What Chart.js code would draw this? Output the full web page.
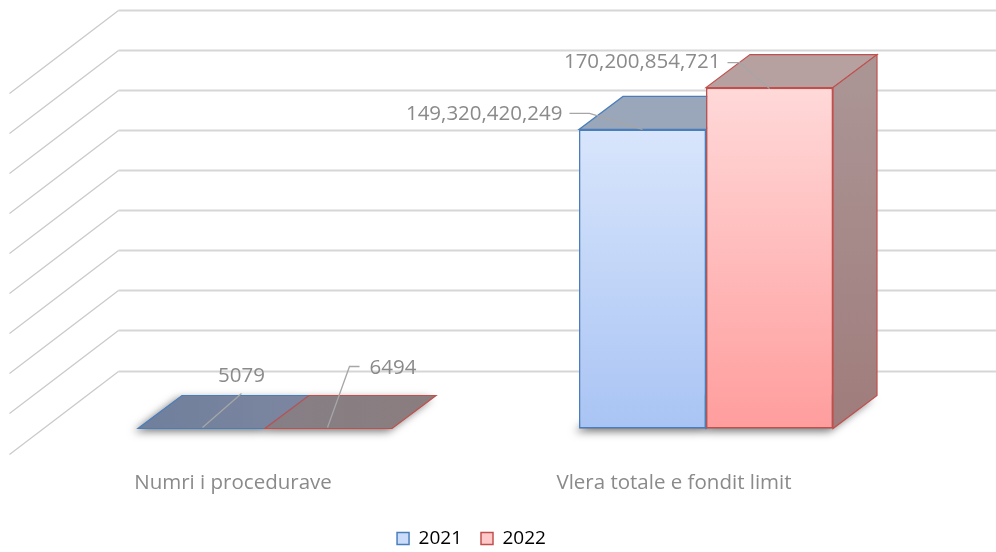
<!DOCTYPE html>
<html>
<head>
<meta charset="utf-8">
<script src="https://cdn.jsdelivr.net/npm/chart.js@4.4.1/dist/chart.umd.min.js"></script>
<style>
  html, body { margin: 0; padding: 0; background: #fff; }
</style>
</head>
<body>
<canvas id="chart" width="996" height="552"></canvas>
<script>
// data
const categories = ["Numri i procedurave", "Vlera totale e fondit limit"];
const seriesNames = ["2021", "2022"];
const values2021 = [5079, 149320420249];
const values2022 = [6494, 170200854721];
const axisMax = 180000000000;
const axisStep = 20000000000;

// look of the fake 3D
const depth = { dx: 44, dy: -33 };             // bar depth
const wall = { dx: 74, dy: -58, sx: -109, sy: 83 }; // back wall + side wall
const textGrey = "#8a8a8a";
const font = '"Open Sans", "DejaVu Sans", sans-serif';

const faces = [
  { stroke: "#4a7ebb", top: "#9aa6b9", flat: ["#6f7f9c", "#7d86a0"], side: ["#8f9bb0", "#7d889e"],
    front: ["#e2ecfd", "#a9c4f4"], legend: "#cbdcfa" },
  { stroke: "#c0504d", top: "#b6a0a0", flat: ["#857f86", "#8b7d7e"], side: ["#ab9494", "#a07c7c"],
    front: ["#ffdcdc", "#ff9d9d"], legend: "#ffc9c9" }
];

// where each value label sits, relative to its bar (x centre, top)
const labelSpots = [
  [ { tx: 40, ty: -52, align: "center", line: [[40, -35], [1, -1]] },
    { tx: -80, ty: -15, align: "right", line: [[-73, -16], [-53, -16], [0, 0]] } ],
  [ { tx: 41, ty: -60, align: "left", line: [[31, -62], [21, -62], [-1, -1]] },
    { tx: -49, ty: -25, align: "right", line: [[-42, -25], [-30, -25], [0, 1]] } ]
];

function fmt(v) {
  return v >= 1000000 ? v.toLocaleString("en-US") : String(v);
}

function frontFill(d) {
  return (ctx) => {
    const a = ctx.chart.chartArea;
    if (!a) return faces[d].front[1];
    const g = ctx.chart.ctx.createLinearGradient(0, a.top, 0, a.bottom);
    g.addColorStop(0, faces[d].front[0]);
    g.addColorStop(1, faces[d].front[1]);
    return g;
  };
}

function poly(ctx, pts, fill, stroke, lw) {
  ctx.beginPath();
  ctx.moveTo(pts[0][0], pts[0][1]);
  for (let i = 1; i < pts.length; i++) ctx.lineTo(pts[i][0], pts[i][1]);
  ctx.closePath();
  ctx.fillStyle = fill;
  ctx.fill();
  if (stroke) {
    ctx.strokeStyle = stroke;
    ctx.lineWidth = lw || 1;
    ctx.stroke();
  }
}

const threeD = {
  id: "threeD",
  afterLayout(chart) {
    // legend sits a bit left of the middle in the original
    chart.legend.left -= 14;
    chart.legend.right -= 14;
  },
  beforeDatasetsDraw(chart) {
    const { ctx, chartArea, scales } = chart;
    const y = scales.y;
    const wx = chartArea.left + wall.dx;
    let ticks = y.ticks.map(t => t.value);
    if (!ticks.length) {
      for (let v = 0; v <= axisMax; v += axisStep) ticks.push(v);
    }
    ctx.save();
    ticks.forEach(v => {
      const yb = Math.round(y.getPixelForValue(v) + wall.dy) + 0.5;
      ctx.strokeStyle = "#d6d6d6";
      ctx.lineWidth = 2;
      ctx.beginPath();
      ctx.moveTo(wx, yb);
      ctx.lineTo(chart.width, yb);
      ctx.stroke();
      ctx.strokeStyle = "#cacaca";
      ctx.lineWidth = 1.3;
      ctx.beginPath();
      ctx.moveTo(wx, yb);
      ctx.lineTo(wx + wall.sx, yb + wall.sy);
      ctx.stroke();
    });
    ctx.restore();
  },
  afterDatasetsDraw(chart) {
    const { ctx } = chart;
    const metas = [chart.getDatasetMeta(0), chart.getDatasetMeta(1)];
    ctx.save();
    // floor shadows first, so no bar is covered by another bar's shadow
    categories.forEach((c, i) => {
      metas.forEach((meta) => {
        const { x, y, base, width } = meta.data[i].getProps(["x", "y", "base", "width"], true);
        const l = x - width / 2, r = x + width / 2;
        ctx.save();
        ctx.shadowColor = "rgba(0,0,0,0.55)";
        ctx.shadowBlur = 9;
        ctx.shadowOffsetX = -4;
        ctx.shadowOffsetY = 3;
        poly(ctx, [[l, base], [r, base], [r + depth.dx, base + depth.dy], [l + depth.dx, base + depth.dy]], "#8c8c8c");
        ctx.restore();
      });
    });
    categories.forEach((c, i) => {
      metas.forEach((meta, d) => {
        const el = meta.data[i];
        const { x, y, base, width } = el.getProps(["x", "y", "base", "width"], true);
        const l = x - width / 2, r = x + width / 2;
        const f = faces[d];
        const tall = base - y > 2;
        if (tall) el.draw(ctx);
        // top face
        let topFill = f.top;
        if (!tall) {
          const g = ctx.createLinearGradient(l, 0, r + depth.dx, 0);
          g.addColorStop(0, f.flat[0]);
          g.addColorStop(1, f.flat[1]);
          topFill = g;
        }
        poly(ctx, [[l, y], [r, y], [r + depth.dx, y + depth.dy], [l + depth.dx, y + depth.dy]], topFill, f.stroke, 1.2);
        // side face
        if (tall) {
          const g = ctx.createLinearGradient(0, y, 0, base);
          g.addColorStop(0, f.side[0]);
          g.addColorStop(1, f.side[1]);
          poly(ctx, [[r, y], [r, base], [r + depth.dx, base + depth.dy], [r + depth.dx, y + depth.dy]], g, f.stroke, 1.2);
        }
      });
    });

    // value labels with leader lines
    ctx.font = "20.5px " + font;
    ctx.textBaseline = "middle";
    metas.forEach((meta, d) => {
      const vals = chart.data.datasets[d].data;
      meta.data.forEach((el, i) => {
        const { x, y } = el.getProps(["x", "y"], true);
        const s = labelSpots[d][i];
        ctx.strokeStyle = "#a6a6a6";
        ctx.lineWidth = 1.3;
        ctx.beginPath();
        s.line.forEach((p, k) => {
          if (k === 0) ctx.moveTo(x + p[0], y + p[1]);
          else ctx.lineTo(x + p[0], y + p[1]);
        });
        ctx.stroke();
        ctx.fillStyle = textGrey;
        ctx.textAlign = s.align;
        ctx.fillText(fmt(vals[i]), x + s.tx, y + s.ty);
      });
    });
    ctx.restore();
  }
};

new Chart(document.getElementById("chart"), {
  type: "bar",
  data: {
    labels: categories,
    datasets: [
      { label: seriesNames[0], data: values2021, backgroundColor: frontFill(0),
        borderColor: faces[0].stroke, borderWidth: 1.5, borderSkipped: false },
      { label: seriesNames[1], data: values2022, backgroundColor: frontFill(1),
        borderColor: faces[1].stroke, borderWidth: 1.5, borderSkipped: false }
    ]
  },
  options: {
    responsive: false,
    animation: false,
    layout: { padding: { left: 44.5, right: 69.5, top: 68, bottom: -6 } },
    categoryPercentage: 0.576,
    barPercentage: 1,
    scales: {
      x: {
        grid: { display: false, drawTicks: false },
        border: { display: false },
        ticks: { color: textGrey, font: { family: font, size: 20.5 }, padding: 42, labelOffset: -32 },
        afterFit(scale) { scale.height = 81.5; }
      },
      y: {
        display: false,
        min: 0,
        max: axisMax,
        ticks: { stepSize: axisStep }
      }
    },
    plugins: {
      tooltip: { enabled: false },
      legend: {
        position: "bottom",
        labels: {
          color: textGrey,
          font: { family: font, size: 19 },
          boxWidth: 12,
          boxHeight: 12,
          padding: 19,
          generateLabels: (chart) => chart.data.datasets.map((ds, d) => ({
            text: ds.label,
            fillStyle: faces[d].legend,
            strokeStyle: faces[d].stroke,
            lineWidth: 1.5,
            datasetIndex: d,
            hidden: false
          }))
        }
      }
    }
  },
  plugins: [threeD]
});
</script>
</body>
</html>
